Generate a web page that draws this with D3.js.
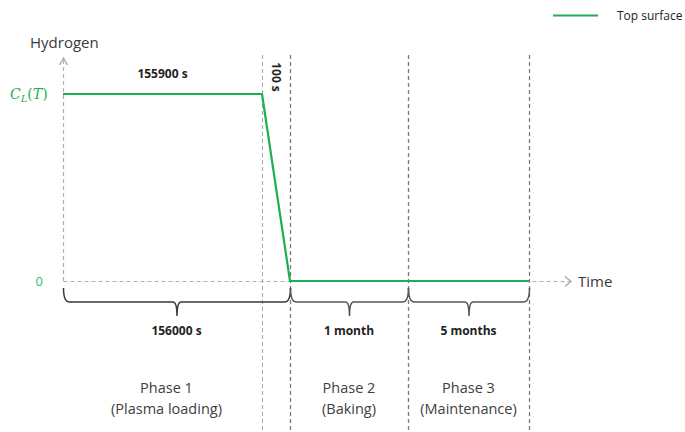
<!DOCTYPE html>
<html>
<head>
<meta charset="utf-8">
<script src="https://cdn.jsdelivr.net/npm/d3@7"></script>
<style>
  html, body { margin: 0; padding: 0; background: #fff; }
  svg { display: block; font-family: "Open Sans", "Liberation Sans", sans-serif; }
</style>
</head>
<body>
<svg id="chart" width="685" height="432"></svg>
<script>
// Time breakpoints of the cycle (seconds): end of plasma, end of ramp-down,
// end of baking (1 month) and end of maintenance (5 months).
const MONTH = 2592000;
const times = [0, 155900, 156000, 156000 + MONTH, 156000 + 6 * MONTH];
// Hydrogen concentration at the top surface, as a fraction of C_L(T)
const hydrogen = [1, 1, 0, 0, 0];
// Duration annotations (indices into times)
const spans = [
  { label: "156000 s", from: 0, to: 2 },
  { label: "1 month", from: 2, to: 3 },
  { label: "5 months", from: 3, to: 4 }
];
const phases = [
  { name: "Phase 1", desc: "(Plasma loading)", from: 0, to: 2 },
  { name: "Phase 2", desc: "(Baking)", from: 2, to: 3 },
  { name: "Phase 3", desc: "(Maintenance)", from: 3, to: 4 }
];
const yTicks = [0, 1];

const svg = d3.select("#chart");
const green = "#1fae50";

// Schematic (piecewise) time scale so every phase gets readable room
const x = d3.scaleLinear().domain(times).range([63, 262, 290, 408, 529]);
const y = d3.scaleLinear().domain([0, 1]).range([281, 94]);

const yAxisTop = 58;
const bottom = 432;

// Phase boundaries
svg.append("g").selectAll("line")
  .data(times.slice(1))
  .join("line")
  .attr("x1", d => Math.round(x(d)) + 0.5).attr("x2", d => Math.round(x(d)) + 0.5)
  .attr("y1", 55).attr("y2", bottom)
  .attr("stroke", (d, i) => i === 0 ? "#a6a6a6" : "#7a7a7a")
  .attr("stroke-width", (d, i) => i === 0 ? 1 : 1.3)
  .attr("stroke-dasharray", "4,3");

// Vertical axis (dashed with open arrow)
const x0 = Math.round(x(0)) + 0.5;
svg.append("line")
  .attr("x1", x0).attr("x2", x0).attr("y1", yAxisTop + 2).attr("y2", y(0))
  .attr("stroke", "#b0b0b0").attr("stroke-width", 1.2).attr("stroke-dasharray", "4,3");
svg.append("path")
  .attr("d", `M${x0 - 4},${yAxisTop + 7}L${x0},${yAxisTop}L${x0 + 4},${yAxisTop + 7}`)
  .attr("fill", "none").attr("stroke", "#a6a6a6").attr("stroke-width", 1.3);

// Horizontal axis (dashed with open arrow)
const xEnd = 570;
const y0 = Math.round(y(0)) + 0.5;
svg.append("line")
  .attr("x1", x0).attr("x2", xEnd).attr("y1", y0).attr("y2", y0)
  .attr("stroke", "#b0b0b0").attr("stroke-width", 1.2).attr("stroke-dasharray", "4,3");
svg.append("path")
  .attr("d", `M${xEnd - 5},${y0 - 5}L${xEnd + 1},${y0}L${xEnd - 5},${y0 + 5}`)
  .attr("fill", "none").attr("stroke", "#a6a6a6").attr("stroke-width", 1.3);

svg.append("text").attr("x", 578).attr("y", y0 + 5)
  .attr("font-size", 15).attr("fill", "#3a3a3a").text("Time");
svg.append("text").attr("x", 30).attr("y", 48)
  .attr("font-size", 15).attr("fill", "#3a3a3a").text("Hydrogen");

// Y tick labels
const yLab = svg.append("g");
yLab.append("text").attr("x", 43).attr("y", y(0) + 5).attr("text-anchor", "end")
  .attr("font-size", 13).attr("fill", "#33bb77").text(yTicks[0]);
const cl = yLab.append("text").attr("x", 10).attr("y", y(yTicks[1]) + 5)
  .attr("font-family", "'DejaVu Serif', 'Liberation Serif', serif")
  .attr("font-style", "italic").attr("font-size", 14).attr("fill", green);
cl.append("tspan").text("C");
cl.append("tspan").attr("font-size", 10).attr("dy", 3).text("L");
cl.append("tspan").attr("dy", -3).attr("font-style", "normal").text("(");
cl.append("tspan").text("T");
cl.append("tspan").attr("font-style", "normal").text(")");

// Concentration line
const line = d3.line().x((d, i) => x(times[i])).y(d => y(d));
svg.append("path").datum(hydrogen)
  .attr("d", line)
  .attr("fill", "none").attr("stroke", green).attr("stroke-width", 2.2)
  .attr("stroke-linejoin", "round");

// Segment duration labels
svg.append("text").attr("x", (x(times[0]) + x(times[1])) / 2).attr("y", 78)
  .attr("text-anchor", "middle").attr("font-size", 12).attr("font-weight", "bold")
  .attr("fill", "#222").text(`${times[1] - times[0]} s`);
const rx = (x(times[1]) + x(times[2])) / 2;
svg.append("text")
  .attr("transform", `translate(${rx - 4},77) rotate(90)`)
  .attr("text-anchor", "middle").attr("font-size", 12).attr("font-weight", "bold")
  .attr("fill", "#222").text(`${times[2] - times[1]} s`);

// Curly braces beneath the time axis
function brace(a, b) {
  const top = 288, mid = 302, tip = 316, r = 6;
  const c = (a + b) / 2;
  return `M${a},${top} Q${a},${mid} ${a + r},${mid} L${c - 4},${mid} Q${c},${mid} ${c},${tip}` +
         ` Q${c},${mid} ${c + 4},${mid} L${b - r},${mid} Q${b},${mid} ${b},${top}`;
}
const br = svg.append("g");
br.selectAll("path").data(spans).join("path")
  .attr("d", d => brace(x(times[d.from]) + 0.5, x(times[d.to]) + 0.5))
  .attr("fill", "none").attr("stroke", (d, i) => i === 0 ? "#3a3a3a" : "#555")
  .attr("stroke-width", 1.5);
br.selectAll("text").data(spans).join("text")
  .attr("x", d => (x(times[d.from]) + x(times[d.to])) / 2)
  .attr("y", 335).attr("text-anchor", "middle")
  .attr("font-size", 12).attr("font-weight", "bold").attr("fill", "#222")
  .text(d => d.label);

// Phase names
const ph = svg.append("g").selectAll("text").data(phases).join("text")
  .attr("text-anchor", "middle").attr("font-size", 14.5).attr("fill", "#404040");
ph.append("tspan")
  .attr("x", d => (x(times[d.from]) + x(times[d.to])) / 2 - 10 * (d.from === 0))
  .attr("y", 393).text(d => d.name);
ph.append("tspan")
  .attr("x", d => (x(times[d.from]) + x(times[d.to])) / 2 - 10 * (d.from === 0))
  .attr("y", 414).text(d => d.desc);

// Legend
const lg = svg.append("g");
lg.append("line").attr("x1", 553).attr("x2", 598).attr("y1", 15.5).attr("y2", 15.5)
  .attr("stroke", green).attr("stroke-width", 2.2);
lg.append("text").attr("x", 617).attr("y", 20).attr("font-size", 12)
  .attr("fill", "#222").text("Top surface");
</script>
</body>
</html>
